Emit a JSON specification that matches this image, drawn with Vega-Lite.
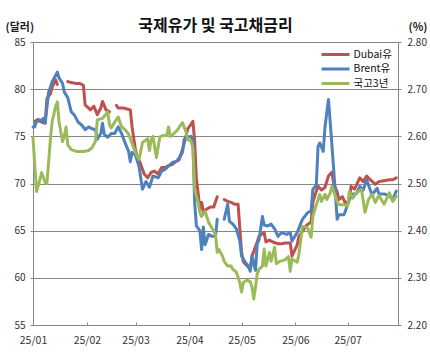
{
  "$schema": "https://vega.github.io/schema/vega-lite/v6.json",
  "width": 365,
  "height": 283,
  "autosize": "none",
  "padding": {"left": 33, "top": 42, "right": 32, "bottom": 33},
  "background": "white",
  "config": {
    "font": "Noto Sans CJK KR",
    "view": {"stroke": null},
    "axis": {"labelFont": "Noto Sans CJK KR", "titleFont": "Noto Sans CJK KR", "labelColor": "#333333", "labelFontSize": 10, "domainColor": "#868686", "tickColor": "#868686", "titleColor": "#222222", "titleFontSize": 11, "titleFontWeight": "bold"}
  },
  "title": {"text": "국제유가 및 국고채금리", "fontSize": 16, "fontWeight": "bold", "offset": 10, "dy": 23, "anchor": "middle", "color": "#111111", "font": "Noto Sans CJK KR"},
  "data": {"values": [
    {"d":"2025-01-02","s":"Dubai유","v":76.6},{"d":"2025-01-04","s":"Dubai유","v":76.8},{"d":"2025-01-06","s":"Dubai유","v":76.5},{"d":"2025-01-08","s":"Dubai유","v":76.4},{"d":"2025-01-09","s":"Dubai유","v":79.0},{"d":"2025-01-11","s":"Dubai유","v":79.5},{"d":"2025-01-12","s":"Dubai유","v":80.2},{"d":"2025-01-14","s":"Dubai유","v":81.0},{"d":"2025-01-15","s":"Dubai유","v":80.5},{"d":"2025-01-18","s":"Dubai유","v":null},{"d":"2025-01-21","s":"Dubai유","v":80.8},{"d":"2025-01-23","s":"Dubai유","v":80.7},{"d":"2025-01-26","s":"Dubai유","v":80.6},{"d":"2025-01-28","s":"Dubai유","v":80.6},{"d":"2025-01-30","s":"Dubai유","v":80.4},{"d":"2025-01-31","s":"Dubai유","v":78.3},{"d":"2025-02-02","s":"Dubai유","v":78.0},{"d":"2025-02-03","s":"Dubai유","v":77.8},{"d":"2025-02-05","s":"Dubai유","v":78.2},{"d":"2025-02-07","s":"Dubai유","v":77.3},{"d":"2025-02-09","s":"Dubai유","v":78.0},{"d":"2025-02-10","s":"Dubai유","v":78.7},{"d":"2025-02-12","s":"Dubai유","v":77.8},{"d":"2025-02-14","s":"Dubai유","v":77.6},{"d":"2025-02-16","s":"Dubai유","v":null},{"d":"2025-02-18","s":"Dubai유","v":78.3},{"d":"2025-02-19","s":"Dubai유","v":78.0},{"d":"2025-02-22","s":"Dubai유","v":78.0},{"d":"2025-02-24","s":"Dubai유","v":77.9},{"d":"2025-02-26","s":"Dubai유","v":77.8},{"d":"2025-02-27","s":"Dubai유","v":76.0},{"d":"2025-03-01","s":"Dubai유","v":73.5},{"d":"2025-03-02","s":"Dubai유","v":72.8},{"d":"2025-03-03","s":"Dubai유","v":72.5},{"d":"2025-03-05","s":"Dubai유","v":71.5},{"d":"2025-03-06","s":"Dubai유","v":71.0},{"d":"2025-03-08","s":"Dubai유","v":70.6},{"d":"2025-03-10","s":"Dubai유","v":71.2},{"d":"2025-03-12","s":"Dubai유","v":71.3},{"d":"2025-03-14","s":"Dubai유","v":71.0},{"d":"2025-03-16","s":"Dubai유","v":71.7},{"d":"2025-03-18","s":"Dubai유","v":71.7},{"d":"2025-03-20","s":"Dubai유","v":71.9},{"d":"2025-03-22","s":"Dubai유","v":72.0},{"d":"2025-03-24","s":"Dubai유","v":72.3},{"d":"2025-03-26","s":"Dubai유","v":72.5},{"d":"2025-03-28","s":"Dubai유","v":73.6},{"d":"2025-03-30","s":"Dubai유","v":75.0},{"d":"2025-03-31","s":"Dubai유","v":75.8},{"d":"2025-04-02","s":"Dubai유","v":76.3},{"d":"2025-04-03","s":"Dubai유","v":76.6},{"d":"2025-04-04","s":"Dubai유","v":74.5},{"d":"2025-04-05","s":"Dubai유","v":70.5},{"d":"2025-04-06","s":"Dubai유","v":69.0},{"d":"2025-04-07","s":"Dubai유","v":67.3},{"d":"2025-04-08","s":"Dubai유","v":68.0},{"d":"2025-04-09","s":"Dubai유","v":67.0},{"d":"2025-04-11","s":"Dubai유","v":67.3},{"d":"2025-04-13","s":"Dubai유","v":67.5},{"d":"2025-04-15","s":"Dubai유","v":67.5},{"d":"2025-04-17","s":"Dubai유","v":68.6},{"d":"2025-04-19","s":"Dubai유","v":null},{"d":"2025-04-21","s":"Dubai유","v":68.3},{"d":"2025-04-23","s":"Dubai유","v":68.1},{"d":"2025-04-25","s":"Dubai유","v":68.0},{"d":"2025-04-27","s":"Dubai유","v":67.8},{"d":"2025-04-29","s":"Dubai유","v":67.8},{"d":"2025-05-01","s":"Dubai유","v":62.7},{"d":"2025-05-02","s":"Dubai유","v":61.7},{"d":"2025-05-03","s":"Dubai유","v":61.5},{"d":"2025-05-06","s":"Dubai유","v":60.9},{"d":"2025-05-07","s":"Dubai유","v":62.3},{"d":"2025-05-10","s":"Dubai유","v":63.8},{"d":"2025-05-11","s":"Dubai유","v":64.4},{"d":"2025-05-14","s":"Dubai유","v":64.8},{"d":"2025-05-15","s":"Dubai유","v":63.8},{"d":"2025-05-17","s":"Dubai유","v":64.0},{"d":"2025-05-19","s":"Dubai유","v":63.8},{"d":"2025-05-22","s":"Dubai유","v":63.6},{"d":"2025-05-24","s":"Dubai유","v":63.6},{"d":"2025-05-26","s":"Dubai유","v":63.7},{"d":"2025-05-29","s":"Dubai유","v":63.7},{"d":"2025-05-30","s":"Dubai유","v":62.3},{"d":"2025-06-02","s":"Dubai유","v":63.5},{"d":"2025-06-03","s":"Dubai유","v":64.4},{"d":"2025-06-06","s":"Dubai유","v":65.2},{"d":"2025-06-07","s":"Dubai유","v":65.5},{"d":"2025-06-09","s":"Dubai유","v":65.8},{"d":"2025-06-10","s":"Dubai유","v":65.9},{"d":"2025-06-11","s":"Dubai유","v":68.0},{"d":"2025-06-13","s":"Dubai유","v":69.2},{"d":"2025-06-14","s":"Dubai유","v":69.7},{"d":"2025-06-16","s":"Dubai유","v":69.3},{"d":"2025-06-18","s":"Dubai유","v":69.6},{"d":"2025-06-20","s":"Dubai유","v":70.8},{"d":"2025-06-22","s":"Dubai유","v":71.2},{"d":"2025-06-23","s":"Dubai유","v":70.0},{"d":"2025-06-25","s":"Dubai유","v":69.1},{"d":"2025-06-26","s":"Dubai유","v":68.3},{"d":"2025-06-28","s":"Dubai유","v":68.6},{"d":"2025-06-30","s":"Dubai유","v":67.8},{"d":"2025-07-02","s":"Dubai유","v":68.3},{"d":"2025-07-03","s":"Dubai유","v":69.7},{"d":"2025-07-05","s":"Dubai유","v":69.4},{"d":"2025-07-08","s":"Dubai유","v":70.6},{"d":"2025-07-10","s":"Dubai유","v":70.2},{"d":"2025-07-12","s":"Dubai유","v":70.8},{"d":"2025-07-14","s":"Dubai유","v":70.4},{"d":"2025-07-17","s":"Dubai유","v":69.9},{"d":"2025-07-19","s":"Dubai유","v":70.2},{"d":"2025-07-22","s":"Dubai유","v":70.3},{"d":"2025-07-25","s":"Dubai유","v":70.4},{"d":"2025-07-27","s":"Dubai유","v":70.4},{"d":"2025-07-29","s":"Dubai유","v":70.6},
    {"d":"2025-01-01","s":"Brent유","v":76.0},{"d":"2025-01-02","s":"Brent유","v":76.0},{"d":"2025-01-03","s":"Brent유","v":76.6},{"d":"2025-01-05","s":"Brent유","v":76.6},{"d":"2025-01-07","s":"Brent유","v":76.9},{"d":"2025-01-08","s":"Brent유","v":76.4},{"d":"2025-01-10","s":"Brent유","v":79.7},{"d":"2025-01-11","s":"Brent유","v":80.2},{"d":"2025-01-12","s":"Brent유","v":80.8},{"d":"2025-01-15","s":"Brent유","v":81.8},{"d":"2025-01-16","s":"Brent유","v":81.2},{"d":"2025-01-18","s":"Brent유","v":80.6},{"d":"2025-01-19","s":"Brent유","v":79.7},{"d":"2025-01-21","s":"Brent유","v":79.1},{"d":"2025-01-23","s":"Brent유","v":77.6},{"d":"2025-01-25","s":"Brent유","v":77.2},{"d":"2025-01-27","s":"Brent유","v":76.5},{"d":"2025-01-29","s":"Brent유","v":76.2},{"d":"2025-01-31","s":"Brent유","v":75.7},{"d":"2025-02-02","s":"Brent유","v":76.0},{"d":"2025-02-04","s":"Brent유","v":75.8},{"d":"2025-02-06","s":"Brent유","v":75.7},{"d":"2025-02-07","s":"Brent유","v":74.7},{"d":"2025-02-09","s":"Brent유","v":75.3},{"d":"2025-02-10","s":"Brent유","v":76.4},{"d":"2025-02-11","s":"Brent유","v":75.2},{"d":"2025-02-13","s":"Brent유","v":74.9},{"d":"2025-02-15","s":"Brent유","v":75.3},{"d":"2025-02-17","s":"Brent유","v":75.3},{"d":"2025-02-19","s":"Brent유","v":76.0},{"d":"2025-02-21","s":"Brent유","v":75.3},{"d":"2025-02-23","s":"Brent유","v":74.3},{"d":"2025-02-25","s":"Brent유","v":73.4},{"d":"2025-02-26","s":"Brent유","v":72.3},{"d":"2025-02-27","s":"Brent유","v":73.3},{"d":"2025-03-01","s":"Brent유","v":73.0},{"d":"2025-03-03","s":"Brent유","v":71.8},{"d":"2025-03-05","s":"Brent유","v":69.4},{"d":"2025-03-07","s":"Brent유","v":70.2},{"d":"2025-03-09","s":"Brent유","v":69.6},{"d":"2025-03-11","s":"Brent유","v":70.8},{"d":"2025-03-14","s":"Brent유","v":70.6},{"d":"2025-03-16","s":"Brent유","v":71.3},{"d":"2025-03-18","s":"Brent유","v":71.5},{"d":"2025-03-22","s":"Brent유","v":72.2},{"d":"2025-03-25","s":"Brent유","v":72.4},{"d":"2025-03-28","s":"Brent유","v":73.3},{"d":"2025-03-29","s":"Brent유","v":74.7},{"d":"2025-03-31","s":"Brent유","v":74.9},{"d":"2025-04-02","s":"Brent유","v":75.0},{"d":"2025-04-03","s":"Brent유","v":74.5},{"d":"2025-04-04","s":"Brent유","v":68.0},{"d":"2025-04-05","s":"Brent유","v":65.5},{"d":"2025-04-07","s":"Brent유","v":65.0},{"d":"2025-04-08","s":"Brent유","v":63.0},{"d":"2025-04-09","s":"Brent유","v":65.4},{"d":"2025-04-10","s":"Brent유","v":63.5},{"d":"2025-04-12","s":"Brent유","v":64.6},{"d":"2025-04-14","s":"Brent유","v":64.4},{"d":"2025-04-16","s":"Brent유","v":64.4},{"d":"2025-04-17","s":"Brent유","v":66.2},{"d":"2025-04-19","s":"Brent유","v":null},{"d":"2025-04-21","s":"Brent유","v":66.2},{"d":"2025-04-23","s":"Brent유","v":67.8},{"d":"2025-04-24","s":"Brent유","v":66.0},{"d":"2025-04-26","s":"Brent유","v":65.7},{"d":"2025-04-28","s":"Brent유","v":65.2},{"d":"2025-04-30","s":"Brent유","v":63.9},{"d":"2025-05-01","s":"Brent유","v":62.3},{"d":"2025-05-03","s":"Brent유","v":61.7},{"d":"2025-05-05","s":"Brent유","v":61.2},{"d":"2025-05-06","s":"Brent유","v":60.7},{"d":"2025-05-07","s":"Brent유","v":62.3},{"d":"2025-05-09","s":"Brent유","v":60.8},{"d":"2025-05-10","s":"Brent유","v":63.6},{"d":"2025-05-11","s":"Brent유","v":64.0},{"d":"2025-05-13","s":"Brent유","v":66.5},{"d":"2025-05-14","s":"Brent유","v":65.6},{"d":"2025-05-16","s":"Brent유","v":65.5},{"d":"2025-05-18","s":"Brent유","v":65.7},{"d":"2025-05-20","s":"Brent유","v":65.2},{"d":"2025-05-22","s":"Brent유","v":64.4},{"d":"2025-05-24","s":"Brent유","v":64.8},{"d":"2025-05-27","s":"Brent유","v":64.6},{"d":"2025-05-29","s":"Brent유","v":64.8},{"d":"2025-05-30","s":"Brent유","v":63.9},{"d":"2025-06-02","s":"Brent유","v":64.8},{"d":"2025-06-05","s":"Brent유","v":66.2},{"d":"2025-06-08","s":"Brent유","v":66.9},{"d":"2025-06-10","s":"Brent유","v":67.1},{"d":"2025-06-11","s":"Brent유","v":69.4},{"d":"2025-06-13","s":"Brent유","v":69.8},{"d":"2025-06-14","s":"Brent유","v":73.9},{"d":"2025-06-15","s":"Brent유","v":74.3},{"d":"2025-06-17","s":"Brent유","v":73.4},{"d":"2025-06-18","s":"Brent유","v":76.0},{"d":"2025-06-20","s":"Brent유","v":78.9},{"d":"2025-06-21","s":"Brent유","v":76.5},{"d":"2025-06-22","s":"Brent유","v":74.0},{"d":"2025-06-23","s":"Brent유","v":71.5},{"d":"2025-06-25","s":"Brent유","v":66.2},{"d":"2025-06-26","s":"Brent유","v":66.7},{"d":"2025-06-29","s":"Brent유","v":66.7},{"d":"2025-07-02","s":"Brent유","v":68.3},{"d":"2025-07-04","s":"Brent유","v":68.9},{"d":"2025-07-06","s":"Brent유","v":68.9},{"d":"2025-07-08","s":"Brent유","v":69.7},{"d":"2025-07-10","s":"Brent유","v":69.3},{"d":"2025-07-12","s":"Brent유","v":70.4},{"d":"2025-07-15","s":"Brent유","v":68.8},{"d":"2025-07-18","s":"Brent유","v":69.5},{"d":"2025-07-19","s":"Brent유","v":68.9},{"d":"2025-07-22","s":"Brent유","v":68.9},{"d":"2025-07-25","s":"Brent유","v":68.7},{"d":"2025-07-27","s":"Brent유","v":68.3},{"d":"2025-07-29","s":"Brent유","v":69.2},
    {"d":"2025-01-01","s":"국고3년","v":2.597},{"d":"2025-01-02","s":"국고3년","v":2.54},{"d":"2025-01-03","s":"국고3년","v":2.483},{"d":"2025-01-04","s":"국고3년","v":2.495},{"d":"2025-01-06","s":"국고3년","v":2.523},{"d":"2025-01-08","s":"국고3년","v":2.502},{"d":"2025-01-09","s":"국고3년","v":2.500},{"d":"2025-01-11","s":"국고3년","v":2.593},{"d":"2025-01-12","s":"국고3년","v":2.631},{"d":"2025-01-14","s":"국고3년","v":2.663},{"d":"2025-01-15","s":"국고3년","v":2.673},{"d":"2025-01-16","s":"국고3년","v":2.630},{"d":"2025-01-18","s":"국고3년","v":2.589},{"d":"2025-01-19","s":"국고3년","v":2.600},{"d":"2025-01-20","s":"국고3년","v":2.620},{"d":"2025-01-21","s":"국고3년","v":2.582},{"d":"2025-01-23","s":"국고3년","v":2.572},{"d":"2025-01-26","s":"국고3년","v":2.568},{"d":"2025-01-30","s":"국고3년","v":2.568},{"d":"2025-02-02","s":"국고3년","v":2.570},{"d":"2025-02-04","s":"국고3년","v":2.576},{"d":"2025-02-06","s":"국고3년","v":2.590},{"d":"2025-02-07","s":"국고3년","v":2.635},{"d":"2025-02-10","s":"국고3년","v":2.638},{"d":"2025-02-13","s":"국고3년","v":2.652},{"d":"2025-02-14","s":"국고3년","v":2.625},{"d":"2025-02-15","s":"국고3년","v":2.618},{"d":"2025-02-17","s":"국고3년","v":2.630},{"d":"2025-02-19","s":"국고3년","v":2.641},{"d":"2025-02-21","s":"국고3년","v":2.620},{"d":"2025-02-23","s":"국고3년","v":2.614},{"d":"2025-02-25","s":"국고3년","v":2.605},{"d":"2025-02-27","s":"국고3년","v":2.585},{"d":"2025-03-01","s":"국고3년","v":2.565},{"d":"2025-03-03","s":"국고3년","v":2.551},{"d":"2025-03-05","s":"국고3년","v":2.587},{"d":"2025-03-08","s":"국고3년","v":2.595},{"d":"2025-03-09","s":"국고3년","v":2.570},{"d":"2025-03-10","s":"국고3년","v":2.593},{"d":"2025-03-11","s":"국고3년","v":2.600},{"d":"2025-03-13","s":"국고3년","v":2.555},{"d":"2025-03-15","s":"국고3년","v":2.599},{"d":"2025-03-17","s":"국고3년","v":2.602},{"d":"2025-03-19","s":"국고3년","v":2.602},{"d":"2025-03-20","s":"국고3년","v":2.620},{"d":"2025-03-21","s":"국고3년","v":2.600},{"d":"2025-03-22","s":"국고3년","v":2.602},{"d":"2025-03-25","s":"국고3년","v":2.613},{"d":"2025-03-28","s":"국고3년","v":2.629},{"d":"2025-03-30","s":"국고3년","v":2.610},{"d":"2025-03-31","s":"국고3년","v":2.593},{"d":"2025-04-02","s":"국고3년","v":2.590},{"d":"2025-04-03","s":"국고3년","v":2.575},{"d":"2025-04-04","s":"국고3년","v":2.487},{"d":"2025-04-06","s":"국고3년","v":2.460},{"d":"2025-04-07","s":"국고3년","v":2.439},{"d":"2025-04-08","s":"국고3년","v":2.430},{"d":"2025-04-10","s":"국고3년","v":2.441},{"d":"2025-04-12","s":"국고3년","v":2.418},{"d":"2025-04-14","s":"국고3년","v":2.405},{"d":"2025-04-16","s":"국고3년","v":2.392},{"d":"2025-04-17","s":"국고3년","v":2.354},{"d":"2025-04-18","s":"국고3년","v":2.360},{"d":"2025-04-20","s":"국고3년","v":2.346},{"d":"2025-04-21","s":"국고3년","v":2.335},{"d":"2025-04-23","s":"국고3년","v":2.325},{"d":"2025-04-25","s":"국고3년","v":2.325},{"d":"2025-04-26","s":"국고3년","v":2.318},{"d":"2025-04-28","s":"국고3년","v":2.312},{"d":"2025-04-30","s":"국고3년","v":2.290},{"d":"2025-05-01","s":"국고3년","v":2.270},{"d":"2025-05-02","s":"국고3년","v":2.290},{"d":"2025-05-04","s":"국고3년","v":2.295},{"d":"2025-05-06","s":"국고3년","v":2.292},{"d":"2025-05-07","s":"국고3년","v":2.280},{"d":"2025-05-08","s":"국고3년","v":2.255},{"d":"2025-05-09","s":"국고3년","v":2.280},{"d":"2025-05-10","s":"국고3년","v":2.308},{"d":"2025-05-11","s":"국고3년","v":2.318},{"d":"2025-05-13","s":"국고3년","v":2.325},{"d":"2025-05-14","s":"국고3년","v":2.361},{"d":"2025-05-15","s":"국고3년","v":2.325},{"d":"2025-05-17","s":"국고3년","v":2.354},{"d":"2025-05-18","s":"국고3년","v":2.335},{"d":"2025-05-20","s":"국고3년","v":2.365},{"d":"2025-05-21","s":"국고3년","v":2.330},{"d":"2025-05-23","s":"국고3년","v":2.335},{"d":"2025-05-26","s":"국고3년","v":2.338},{"d":"2025-05-28","s":"국고3년","v":2.345},{"d":"2025-05-29","s":"국고3년","v":2.314},{"d":"2025-05-30","s":"국고3년","v":2.340},{"d":"2025-06-02","s":"국고3년","v":2.333},{"d":"2025-06-03","s":"국고3년","v":2.350},{"d":"2025-06-05","s":"국고3년","v":2.409},{"d":"2025-06-06","s":"국고3년","v":2.409},{"d":"2025-06-08","s":"국고3년","v":2.405},{"d":"2025-06-10","s":"국고3년","v":2.386},{"d":"2025-06-11","s":"국고3년","v":2.430},{"d":"2025-06-13","s":"국고3년","v":2.455},{"d":"2025-06-15","s":"국고3년","v":2.477},{"d":"2025-06-16","s":"국고3년","v":2.462},{"d":"2025-06-18","s":"국고3년","v":2.477},{"d":"2025-06-19","s":"국고3년","v":2.466},{"d":"2025-06-21","s":"국고3년","v":2.480},{"d":"2025-06-22","s":"국고3년","v":2.494},{"d":"2025-06-25","s":"국고3년","v":2.462},{"d":"2025-06-26","s":"국고3년","v":2.455},{"d":"2025-06-29","s":"국고3년","v":2.455},{"d":"2025-07-01","s":"국고3년","v":2.452},{"d":"2025-07-02","s":"국고3년","v":2.483},{"d":"2025-07-04","s":"국고3년","v":2.469},{"d":"2025-07-06","s":"국고3년","v":2.480},{"d":"2025-07-09","s":"국고3년","v":2.487},{"d":"2025-07-11","s":"국고3년","v":2.439},{"d":"2025-07-13","s":"국고3년","v":2.466},{"d":"2025-07-15","s":"국고3년","v":2.477},{"d":"2025-07-17","s":"국고3년","v":2.460},{"d":"2025-07-19","s":"국고3년","v":2.475},{"d":"2025-07-22","s":"국고3년","v":2.456},{"d":"2025-07-25","s":"국고3년","v":2.480},{"d":"2025-07-27","s":"국고3년","v":2.462},{"d":"2025-07-29","s":"국고3년","v":2.473}
  ]},
  "encoding": {
    "x": {
      "field": "d", "type": "temporal",
      "scale": {"type": "utc", "domain": [{"year": 2025, "month": 1, "date": 1, "utc": true}, {"year": 2025, "month": 7, "date": 30, "utc": true}]},
      "axis": {
        "title": null, "labelExpr": "utcFormat(datum.value, '%y/%m')",
        "values": [{"year":2025,"month":1,"date":1,"utc":true},{"year":2025,"month":2,"date":1,"utc":true},{"year":2025,"month":3,"date":1,"utc":true},{"year":2025,"month":4,"date":1,"utc":true},{"year":2025,"month":5,"date":1,"utc":true},{"year":2025,"month":6,"date":1,"utc":true},{"year":2025,"month":7,"date":1,"utc":true}],
        "grid": false, "tickSize": -3, "labelPadding": 13, "labelFontSize": 10.5, "labelFlush": false
      }
    },
    "color": {
      "field": "s", "type": "nominal",
      "scale": {"domain": ["Dubai유", "Brent유", "국고3년"], "range": ["#C0504D", "#4F81BD", "#9BBB59"]},
      "legend": {"title": null, "orient": "none", "legendX": 296, "legendY": 6, "symbolType": "M-3,0H3", "symbolSize": 87, "symbolStrokeWidth": 3, "labelFontSize": 10.5, "labelColor": "#111111", "labelOffset": 11.5, "rowPadding": 1.5, "labelFont": "Noto Sans CJK KR"}
    }
  },
  "layer": [
    {
      "layer": [
        {"transform": [{"filter": "datum.s === 'Dubai유'"}], "mark": {"type": "line", "strokeWidth": 3, "strokeJoin": "round", "strokeCap": "round", "invalid": "break-paths-filter-domains"}},
        {"transform": [{"filter": "datum.s === 'Brent유'"}], "mark": {"type": "line", "strokeWidth": 3, "strokeJoin": "round", "strokeCap": "round", "invalid": "break-paths-filter-domains"}}
      ],
      "encoding": {
        "y": {"field": "v", "type": "quantitative",
          "scale": {"domain": [55, 85], "nice": false, "zero": false},
          "axis": {"title": "(달러)", "titleAngle": 0, "titleX": -28, "titleY": -10, "titleAlign": "left", "titleBaseline": "bottom", "values": [55,60,65,70,75,80,85], "grid": true, "gridColor": "#868686", "gridWidth": 1, "tickSize": 3, "labelPadding": 5}}
      }
    },
    {
      "transform": [{"filter": "datum.s === '국고3년'"}],
      "mark": {"type": "line", "strokeWidth": 3, "strokeJoin": "round", "strokeCap": "round"},
      "encoding": {
        "y": {"field": "v", "type": "quantitative",
          "scale": {"domain": [2.2, 2.8], "nice": false, "zero": false},
          "axis": {"orient": "right", "title": "(%)", "titleAngle": 0, "titleX": 10, "titleY": -10, "titleAlign": "left", "titleBaseline": "bottom", "values": [2.2,2.3,2.4,2.5,2.6,2.7,2.8], "format": ".2f", "grid": false, "tickSize": 3, "labelPadding": 6}}
      }
    }
  ],
  "resolve": {"scale": {"y": "independent"}}
}
